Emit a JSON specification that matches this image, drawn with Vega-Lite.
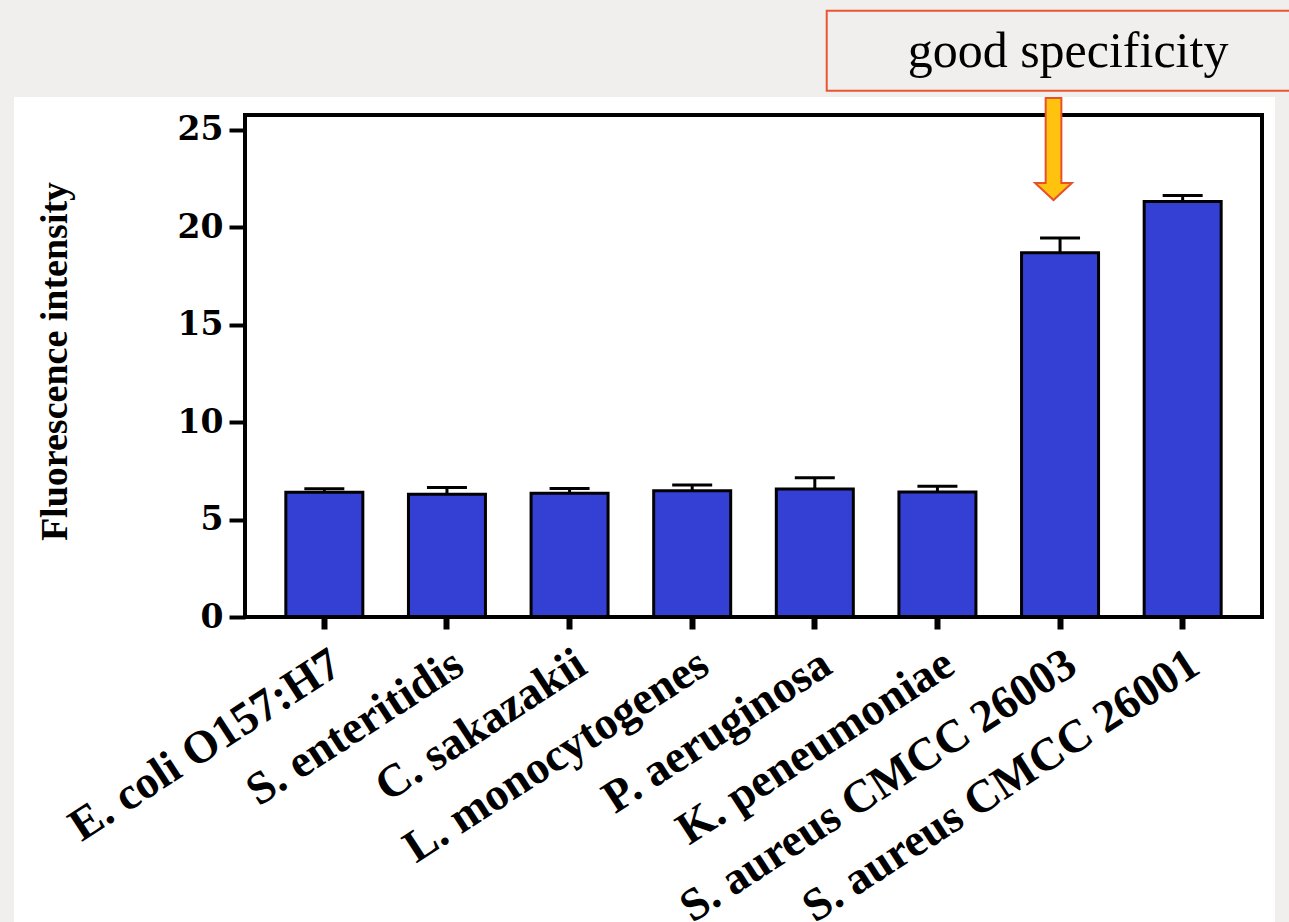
{
  "$schema": "https://vega.github.io/schema/vega-lite/v6.json",
  "width": 1017,
  "height": 502,
  "autosize": {"type": "none"},
  "padding": {"left": 245, "top": 115, "right": 27, "bottom": 305},
  "background": "#f1efee",
  "config": {"view": {"stroke": null}},
  "data": {
    "values": [
      {"strain": "E. coli O157:H7", "mean": 6.4, "upper": 6.58},
      {"strain": "S. enteritidis", "mean": 6.3, "upper": 6.65},
      {"strain": "C. sakazakii", "mean": 6.35, "upper": 6.6},
      {"strain": "L. monocytogenes", "mean": 6.48, "upper": 6.78},
      {"strain": "P. aeruginosa", "mean": 6.57, "upper": 7.15},
      {"strain": "K. peneumoniae", "mean": 6.42, "upper": 6.71},
      {"strain": "S. aureus CMCC 26003", "mean": 18.7, "upper": 19.45},
      {"strain": "S. aureus CMCC 26001", "mean": 21.33, "upper": 21.64}
    ]
  },
  "resolve": {"scale": {"x": "independent"}, "axis": {"y": "independent", "x": "independent"}},
  "layer": [
    {
      "data": {"values": [{}]},
      "mark": {"type": "rect", "fill": "white"},
      "encoding": {
        "x": {"datum": -1.817, "type": "quantitative", "scale": {"domain": [0, 8], "nice": false, "zero": false}, "axis": null},
        "x2": {"datum": 8.102},
        "y": {"datum": 26.69, "type": "quantitative", "scale": {"domain": [0, 25.77], "nice": false}, "axis": null},
        "y2": {"datum": -17}
      }
    },
    {
      "mark": {"type": "bar", "fill": "#3440d4", "stroke": "black", "strokeWidth": 3},
      "encoding": {
        "x": {
          "field": "strain", "type": "nominal", "sort": null,
          "scale": {"paddingInner": 0.372, "paddingOuter": 0.333},
          "axis": {
            "title": null, "domain": false, "zindex": 1,
            "ticks": true, "tickColor": "black", "tickWidth": 6, "tickSize": 12,
            "labelAngle": -33, "labelAlign": "right", "labelBaseline": "top", "labelPadding": 12,
            "labelFont": "Liberation Serif", "labelFontWeight": "bold", "labelFontSize": 46, "labelColor": "black",
            "labelLimit": 0, "labelOverlap": false
          }
        },
        "y": {
          "field": "mean", "type": "quantitative",
          "scale": {"domain": [0, 25.77], "nice": false},
          "axis": {
            "values": [0, 5, 10, 15, 20, 25], "grid": false, "domain": false, "zindex": 1,
            "tickColor": "black", "tickWidth": 4, "tickSize": 16,
            "labelFont": "DejaVu Serif", "labelFontWeight": "bold", "labelFontSize": 33, "labelColor": "black", "labelPadding": 6,
            "title": "Fluorescence intensity", "titleFont": "Liberation Serif", "titleFontWeight": "bold", "titleFontSize": 38,
            "titleColor": "black", "titleX": -190, "titleY": 246, "titleAngle": -90, "titleAlign": "center", "titleBaseline": "middle"
          }
        }
      }
    },
    {
      "mark": {"type": "rule", "color": "black", "strokeWidth": 3},
      "encoding": {
        "x": {"field": "strain", "type": "nominal", "sort": null, "scale": {"paddingInner": 0.372, "paddingOuter": 0.333}, "axis": null},
        "y": {"field": "mean", "type": "quantitative", "scale": {"domain": [0, 25.77], "nice": false}, "axis": null},
        "y2": {"field": "upper"}
      }
    },
    {
      "mark": {"type": "tick", "color": "black", "size": 40, "thickness": 3, "opacity": 1},
      "encoding": {
        "x": {"field": "strain", "type": "nominal", "sort": null, "scale": {"paddingInner": 0.372, "paddingOuter": 0.333}, "axis": null},
        "y": {"field": "upper", "type": "quantitative", "scale": {"domain": [0, 25.77], "nice": false}, "axis": null}
      }
    },
    {
      "data": {"values": [{}]},
      "mark": {"type": "rect", "fill": null, "fillOpacity": 0, "stroke": "black", "strokeWidth": 4},
      "encoding": {
        "x": {"datum": 0, "type": "quantitative", "scale": {"domain": [0, 8], "nice": false, "zero": false}, "axis": null},
        "x2": {"datum": 8},
        "y": {"datum": 0, "type": "quantitative", "scale": {"domain": [0, 25.77], "nice": false}, "axis": null},
        "y2": {"datum": 25.77}
      }
    },
    {
      "data": {"values": [{}]},
      "mark": {"type": "rect", "fill": null, "fillOpacity": 0, "stroke": "#ea5530", "strokeWidth": 2},
      "encoding": {
        "x": {"datum": 4.576, "type": "quantitative", "scale": {"domain": [0, 8], "nice": false, "zero": false}, "axis": null},
        "x2": {"datum": 8.4},
        "y": {"datum": 31.12, "type": "quantitative", "scale": {"domain": [0, 25.77], "nice": false}, "axis": null},
        "y2": {"datum": 27.02}
      }
    },
    {
      "data": {"values": [{}]},
      "mark": {"type": "text", "text": "good specificity", "font": "Liberation Serif", "fontSize": 50, "color": "black", "align": "center", "baseline": "alphabetic"},
      "encoding": {
        "x": {"datum": 6.474, "type": "quantitative", "scale": {"domain": [0, 8], "nice": false, "zero": false}, "axis": null},
        "y": {"datum": 28.23, "type": "quantitative", "scale": {"domain": [0, 25.77], "nice": false}, "axis": null}
      }
    },
    {
      "data": {"values": [{}]},
      "mark": {
        "type": "point", "filled": true, "fill": "#ffc20e", "stroke": "#e8502c", "strokeWidth": 2, "opacity": 1,
        "shape": "M -0.154 -1 L 0.154 -1 L 0.154 0.667 L 0.36 0.667 L 0 1 L -0.36 0.667 L -0.154 0.667 Z",
        "size": 10404
      },
      "encoding": {
        "x": {"datum": 6.36, "type": "quantitative", "scale": {"domain": [0, 8], "nice": false, "zero": false}, "axis": null},
        "y": {"datum": 24.02, "type": "quantitative", "scale": {"domain": [0, 25.77], "nice": false}, "axis": null}
      }
    }
  ]
}
